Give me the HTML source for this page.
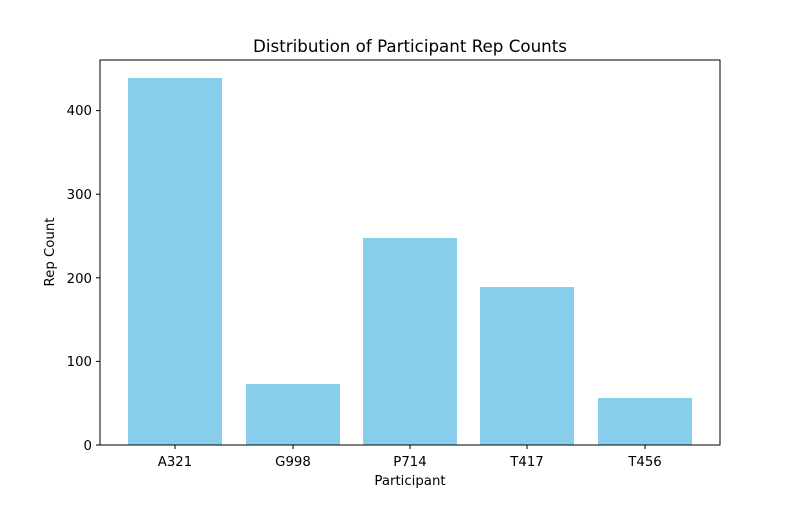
<!DOCTYPE html>
<html><head><meta charset="utf-8"><style>body{margin:0;background:#fff}</style></head><body>
<svg width="800" height="500" xmlns="http://www.w3.org/2000/svg" font-family="DejaVu Sans, Liberation Sans, sans-serif">
<rect width="800" height="500" fill="#fff"/>
<g fill="#87ceeb">
<rect x="128" y="78" width="94" height="367"/>
<rect x="246" y="384" width="94" height="61"/>
<rect x="363" y="238" width="94" height="207"/>
<rect x="480" y="287" width="94" height="158"/>
<rect x="598" y="398" width="94" height="47"/>
</g>
<rect x="100" y="60" width="620" height="385" fill="none" stroke="#000" stroke-width="1"/>
<g stroke="#000">
<line x1="100" y1="445" x2="96" y2="445"/><line x1="100" y1="361.4" x2="96" y2="361.4"/><line x1="100" y1="277.8" x2="96" y2="277.8"/><line x1="100" y1="194.2" x2="96" y2="194.2"/><line x1="100" y1="110.6" x2="96" y2="110.6"/>
<line x1="175" y1="445" x2="175" y2="449"/><line x1="293" y1="445" x2="293" y2="449"/><line x1="410" y1="445" x2="410" y2="449"/><line x1="527" y1="445" x2="527" y2="449"/><line x1="645" y1="445" x2="645" y2="449"/>
</g>
<g font-size="13.3" text-anchor="end">
<text x="92" y="450">0</text><text x="92" y="366">100</text><text x="92" y="283">200</text><text x="92" y="199">300</text><text x="92" y="115">400</text>
</g>
<g font-size="13.3" text-anchor="middle">
<text x="175" y="466">A321</text><text x="293" y="466">G998</text><text x="410" y="466">P714</text><text x="527" y="466">T417</text><text x="645" y="466">T456</text>
<text x="410" y="485">Participant</text>
<text x="410" y="52" font-size="16.7">Distribution of Participant Rep Counts</text>
<text transform="translate(54,252) rotate(-90)">Rep Count</text>
</g>
</svg>
</body></html>
